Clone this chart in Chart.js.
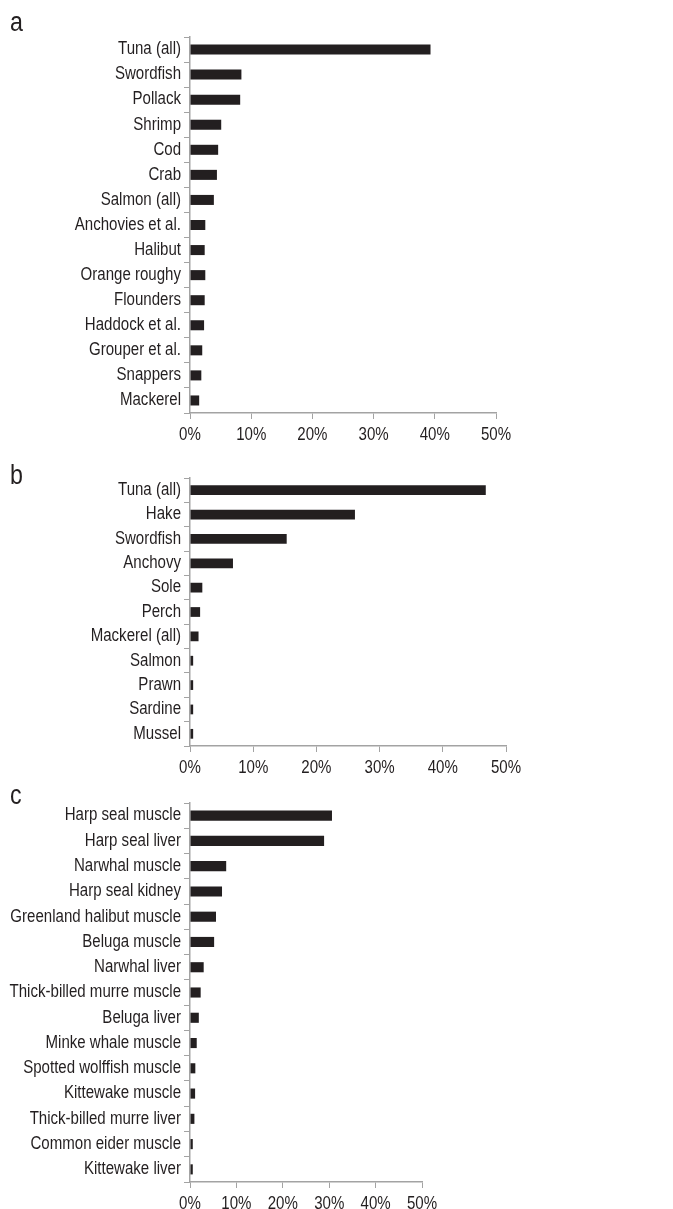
<!DOCTYPE html>
<html lang="en">
<head>
    <meta charset="UTF-8">
    <title>Species share charts</title>
    <script src="https://cdn.jsdelivr.net/npm/chart.js"></script>
    <style>
        body {
            margin: 0;
            background: #fff;
            width: 673px;
            height: 1209px;
            position: relative;
            overflow: hidden;
            font-family: 'Liberation Sans', Arial, sans-serif;
            color: #231f20;
        }
        .panel {
            position: absolute;
            left: 0;
        }
        .letter {
            position: absolute;
            left: 10px;
            font-size: 27px;
            line-height: 27px;
            transform: scaleX(0.86);
            transform-origin: left top;
        }
    </style>
</head>
<body>
    <div class="panel" style="top: 0px;"><canvas id="chartA" width="673" height="450"></canvas></div>
    <div class="panel" style="top: 450px;"><canvas id="chartB" width="673" height="330"></canvas></div>
    <div class="panel" style="top: 780px;"><canvas id="chartC" width="673" height="429"></canvas></div>

    <div class="letter" style="top: 9px;">a</div>
    <div class="letter" style="top: 462px;">b</div>
    <div class="letter" style="top: 782px;">c</div>

    <script>
        // panel a
        const labelsA = ['Tuna (all)', 'Swordfish', 'Pollack', 'Shrimp', 'Cod', 'Crab', 'Salmon (all)',
            'Anchovies et al.', 'Halibut', 'Orange roughy', 'Flounders', 'Haddock et al.',
            'Grouper et al.', 'Snappers', 'Mackerel'];
        const valuesA = [39.3, 8.4, 8.2, 5.1, 4.6, 4.4, 3.9, 2.5, 2.4, 2.5, 2.4, 2.3, 2.0, 1.85, 1.5];

        // panel b
        const labelsB = ['Tuna (all)', 'Hake', 'Swordfish', 'Anchovy', 'Sole', 'Perch', 'Mackerel (all)',
            'Salmon', 'Prawn', 'Sardine', 'Mussel'];
        const valuesB = [46.8, 26.1, 15.3, 6.8, 1.95, 1.6, 1.35, 0.5, 0.5, 0.5, 0.5];

        // panel c
        const labelsC = ['Harp seal muscle', 'Harp seal liver', 'Narwhal muscle', 'Harp seal kidney',
            'Greenland halibut muscle', 'Beluga muscle', 'Narwhal liver', 'Thick-billed murre muscle',
            'Beluga liver', 'Minke whale muscle', 'Spotted wolffish muscle', 'Kittewake muscle',
            'Thick-billed murre liver', 'Common eider muscle', 'Kittewake liver'];
        const valuesC = [30.6, 28.9, 7.8, 6.9, 5.6, 5.2, 2.95, 2.3, 1.9, 1.45, 1.15, 1.1, 0.95, 0.6, 0.6];

        const xTicks = [0, 10, 20, 30, 40, 50];

        const FONT = "'Liberation Sans', Arial, sans-serif";
        const INK = '#231f20';
        const AXIS = '#a3a3a3';

        // the original uses a condensed face, so labels are drawn a bit squeezed
        const squeezedLabels = {
            id: 'squeezedLabels',
            afterDraw(chart) {
                const ctx = chart.ctx;
                const ys = chart.scales.y;
                const xs = chart.scales.x;
                ctx.save();
                ctx.fillStyle = INK;
                ctx.font = '17.5px ' + FONT;
                ctx.textBaseline = 'middle';

                ctx.textAlign = 'right';
                ys.ticks.forEach((t, i) => {
                    ctx.save();
                    ctx.translate(ys.right - 9, ys.getPixelForTick(i));
                    ctx.scale(0.86, 1);
                    ctx.fillText(ys.getLabelForValue(t.value), 0, 0);
                    ctx.restore();
                });

                ctx.textAlign = 'center';
                xs.ticks.forEach((t, i) => {
                    ctx.save();
                    ctx.translate(xs.getPixelForTick(i), xs.top + 22);
                    ctx.scale(0.86, 1);
                    ctx.fillText(t.value + '%', 0, 0);
                    ctx.restore();
                });
                ctx.restore();
            }
        };

        function makeChart(id, labels, values, pad, axisH) {
            const ctx = document.getElementById(id).getContext('2d');
            return new Chart(ctx, {
                type: 'bar',
                data: {
                    labels: labels,
                    datasets: [{
                        data: values,
                        backgroundColor: INK,
                        borderWidth: 0,
                        barPercentage: 0.4,
                        categoryPercentage: 1.0
                    }]
                },
                options: {
                    indexAxis: 'y',
                    responsive: false,
                    animation: false,
                    layout: {
                        padding: { top: pad.top, right: pad.right, left: 0, bottom: 0 }
                    },
                    plugins: {
                        legend: { display: false },
                        tooltip: { enabled: false }
                    },
                    scales: {
                        x: {
                            min: xTicks[0],
                            max: xTicks[xTicks.length - 1],
                            afterBuildTicks: (scale) => {
                                scale.ticks = xTicks.map(v => ({ value: v }));
                            },
                            ticks: { display: false },
                            grid: {
                                drawOnChartArea: false,
                                color: AXIS,
                                tickLength: 6
                            },
                            border: { color: AXIS, width: 1.5 },
                            afterFit: (scale) => { scale.height = axisH; }
                        },
                        y: {
                            ticks: { display: false, autoSkip: false },
                            grid: {
                                drawOnChartArea: false,
                                color: AXIS,
                                tickLength: 6
                            },
                            border: { color: AXIS, width: 1.5 },
                            afterFit: (scale) => { scale.width = 190; }
                        }
                    }
                },
                plugins: [squeezedLabels]
            });
        }

        makeChart('chartA', labelsA, valuesA, { top: 37, right: 177 }, 37);
        makeChart('chartB', labelsB, valuesB, { top: 28, right: 167 }, 34);
        makeChart('chartC', labelsC, valuesC, { top: 23, right: 251 }, 27);
    </script>
</body>
</html>
